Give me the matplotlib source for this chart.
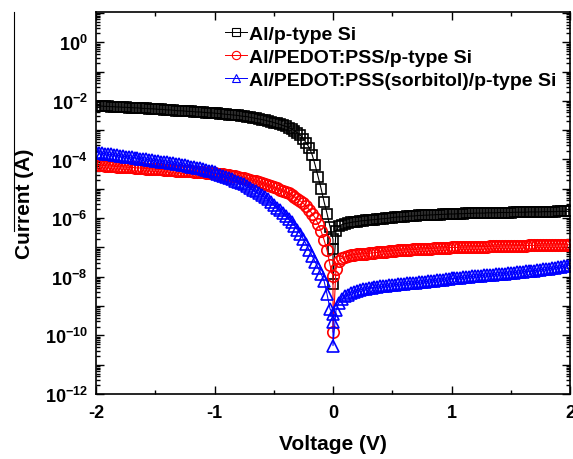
import numpy as np
import matplotlib
matplotlib.use("Agg")
import matplotlib.pyplot as plt
from matplotlib.ticker import LogLocator, FuncFormatter, MultipleLocator, NullFormatter
from matplotlib.lines import Line2D

plt.rcParams['font.family'] = ['Liberation Sans', 'DejaVu Sans']
plt.rcParams['font.weight'] = 'bold'
plt.rcParams['mathtext.fontset'] = 'custom'
plt.rcParams['mathtext.rm'] = 'Liberation Sans:bold'
plt.rcParams['mathtext.bf'] = 'Liberation Sans:bold'
plt.rcParams['mathtext.it'] = 'Liberation Sans:bold'
plt.rcParams['mathtext.default'] = 'rm'
plt.rcParams['axes.unicode_minus'] = False

# ---------------- data (log10 of current in A) ----------------
# sweep: negative branch -2.000 ... -0.025 V (step 0.025), points at 0 V, positive branch 0.025 ... 2.000 V
v_neg = np.round(np.arange(-80, 0) * 0.025, 3)
v_pos = np.round(np.arange(1, 81) * 0.025, 3)

labels = ["Al/p-type Si", "Al/PEDOT:PSS/p-type Si", "Al/PEDOT:PSS(sorbitol)/p-type Si"]

al_neg = [-2.17, -2.18, -2.18, -2.19, -2.19, -2.20, -2.20, -2.21, -2.21, -2.22,
          -2.22, -2.23, -2.23, -2.24, -2.24, -2.25, -2.26, -2.26, -2.27, -2.27,
          -2.28, -2.29, -2.29, -2.30, -2.31, -2.31, -2.32, -2.33, -2.34, -2.34,
          -2.35, -2.36, -2.36, -2.37, -2.38, -2.38, -2.39, -2.40, -2.41, -2.41,
          -2.42, -2.43, -2.44, -2.45, -2.46, -2.47, -2.48, -2.49, -2.50, -2.52,
          -2.53, -2.54, -2.56, -2.58, -2.60, -2.62, -2.64, -2.66, -2.69, -2.71,
          -2.74, -2.77, -2.80, -2.84, -2.87, -2.91, -2.96, -3.02, -3.09, -3.18,
          -3.30, -3.44, -3.60, -3.85, -4.20, -4.60, -5.00, -5.45, -5.85, -6.30]
al_zero = [-6.72, -7.06, -8.25]
al_pos = [-6.45, -6.28, -6.22, -6.19, -6.17, -6.15, -6.13, -6.12, -6.10, -6.09,
          -6.08, -6.07, -6.06, -6.05, -6.04, -6.03, -6.02, -6.01, -6.00, -5.98,
          -5.97, -5.96, -5.96, -5.95, -5.94, -5.93, -5.93, -5.92, -5.91, -5.91,
          -5.90, -5.90, -5.89, -5.89, -5.88, -5.88, -5.87, -5.87, -5.86, -5.86,
          -5.86, -5.85, -5.85, -5.85, -5.84, -5.84, -5.84, -5.83, -5.83, -5.83,
          -5.83, -5.82, -5.82, -5.82, -5.82, -5.81, -5.81, -5.81, -5.81, -5.81,
          -5.80, -5.80, -5.80, -5.80, -5.80, -5.79, -5.79, -5.79, -5.79, -5.79,
          -5.78, -5.78, -5.78, -5.78, -5.78, -5.77, -5.77, -5.77, -5.77, -5.77]

pedot_neg = [-4.19, -4.20, -4.20, -4.21, -4.22, -4.22, -4.23, -4.24, -4.25, -4.25,
             -4.26, -4.27, -4.27, -4.28, -4.29, -4.29, -4.30, -4.31, -4.32, -4.32,
             -4.33, -4.34, -4.34, -4.35, -4.36, -4.36, -4.37, -4.38, -4.39, -4.39,
             -4.40, -4.41, -4.41, -4.42, -4.43, -4.43, -4.44, -4.45, -4.46, -4.46,
             -4.47, -4.48, -4.49, -4.51, -4.52, -4.54, -4.55, -4.57, -4.59, -4.62,
             -4.64, -4.67, -4.70, -4.72, -4.75, -4.78, -4.81, -4.84, -4.88, -4.91,
             -4.95, -4.99, -5.03, -5.07, -5.11, -5.16, -5.21, -5.27, -5.35, -5.42,
             -5.50, -5.60, -5.72, -5.85, -6.00, -6.20, -6.45, -6.75, -7.10, -7.60]
pedot_zero = [-7.97, -9.89]
pedot_pos = [-7.75, -7.45, -7.36, -7.32, -7.29, -7.27, -7.25, -7.24, -7.23, -7.22,
             -7.21, -7.20, -7.19, -7.18, -7.17, -7.16, -7.15, -7.14, -7.13, -7.12,
             -7.11, -7.10, -7.10, -7.09, -7.08, -7.08, -7.07, -7.07, -7.06, -7.05,
             -7.05, -7.04, -7.04, -7.03, -7.03, -7.02, -7.02, -7.01, -7.01, -7.00,
             -7.00, -7.00, -6.99, -6.99, -6.99, -6.98, -6.98, -6.98, -6.97, -6.97,
             -6.97, -6.97, -6.96, -6.96, -6.96, -6.96, -6.95, -6.95, -6.95, -6.95,
             -6.94, -6.94, -6.94, -6.94, -6.94, -6.93, -6.93, -6.93, -6.93, -6.93,
             -6.92, -6.92, -6.92, -6.92, -6.92, -6.91, -6.91, -6.91, -6.91, -6.91]

sorb_neg = [-3.76, -3.77, -3.79, -3.80, -3.82, -3.83, -3.84, -3.86, -3.87, -3.89,
            -3.90, -3.91, -3.93, -3.94, -3.96, -3.97, -3.98, -4.00, -4.01, -4.03,
            -4.04, -4.05, -4.07, -4.08, -4.10, -4.11, -4.13, -4.15, -4.16, -4.18,
            -4.20, -4.22, -4.24, -4.26, -4.28, -4.30, -4.33, -4.35, -4.38, -4.41,
            -4.44, -4.48, -4.52, -4.56, -4.60, -4.64, -4.68, -4.72, -4.76, -4.80,
            -4.85, -4.91, -4.97, -5.03, -5.09, -5.15, -5.22, -5.29, -5.36, -5.45,
            -5.55, -5.64, -5.73, -5.82, -5.92, -6.03, -6.14, -6.26, -6.40, -6.55,
            -6.72, -6.90, -7.10, -7.30, -7.50, -7.70, -7.90, -8.15, -8.60, -9.10]
sorb_zero = [-9.27, -9.55, -10.35]
sorb_pos = [-9.15, -8.88, -8.75, -8.67, -8.61, -8.56, -8.52, -8.48, -8.45, -8.43,
            -8.41, -8.39, -8.38, -8.36, -8.35, -8.33, -8.32, -8.31, -8.29, -8.28,
            -8.27, -8.26, -8.25, -8.24, -8.23, -8.22, -8.21, -8.20, -8.19, -8.18,
            -8.17, -8.16, -8.14, -8.13, -8.12, -8.11, -8.10, -8.08, -8.07, -8.06,
            -8.05, -8.04, -8.03, -8.02, -8.01, -8.00, -7.99, -7.98, -7.97, -7.96,
            -7.95, -7.94, -7.94, -7.93, -7.92, -7.91, -7.90, -7.89, -7.88, -7.87,
            -7.86, -7.85, -7.84, -7.83, -7.82, -7.81, -7.80, -7.79, -7.78, -7.76,
            -7.75, -7.74, -7.72, -7.71, -7.69, -7.68, -7.66, -7.64, -7.62, -7.60]

series = [
    (al_neg, al_zero, al_pos, 'black', 's', 7.2),
    (pedot_neg, pedot_zero, pedot_pos, 'red', 'o', 8.2),
    (sorb_neg, sorb_zero, sorb_pos, 'blue', '^', 8.6),
]

# ---------------- figure ----------------
W, H = 573, 460
fig = plt.figure(figsize=(W / 100, H / 100), dpi=100)
ax = fig.add_axes([96 / W, 1 - 395 / H, (570 - 96) / W, (395 - 13) / H])

for (neg, zero, pos, col, mk, ms), lab in zip(series, labels):
    v = np.concatenate([v_neg, np.zeros(len(zero)), v_pos])
    logi = np.concatenate([neg, zero, pos])
    ax.plot(v, 10.0 ** logi, color=col, lw=0.8, marker=mk, ms=ms,
            mfc='none', mec=col, mew=1.2, label=lab)

ax.set_yscale('log')
ax.set_xlim(-2, 2)
ax.set_ylim(1e-12, 10 ** 1.03)

ax.xaxis.set_major_locator(MultipleLocator(1))
ax.xaxis.set_minor_locator(MultipleLocator(0.5))
ax.xaxis.set_major_formatter(FuncFormatter(lambda x, p: '%d' % round(x)))

ax.yaxis.set_major_locator(LogLocator(base=10, numticks=30))
ax.yaxis.set_minor_locator(LogLocator(base=10, subs=np.arange(2, 10), numticks=30))
ax.yaxis.set_minor_formatter(NullFormatter())

def yfmt(y, pos):
    e = int(round(np.log10(y)))
    if e % 2 == 0:
        return r'$10^{%d}$' % e
    return ''

ax.yaxis.set_major_formatter(FuncFormatter(yfmt))

ax.tick_params(which='both', direction='in', top=True, right=True, width=1.0)
ax.tick_params(which='major', length=5.5, labelsize=13)
ax.tick_params(axis='x', which='major', pad=7)
ax.tick_params(axis='y', which='major', pad=6)
ax.tick_params(which='minor', length=3.0)
for s in ax.spines.values():
    s.set_linewidth(1.2)

ax.set_xlabel('Voltage (V)', fontsize=15, fontweight='bold')
ax.set_ylabel('Current (A)', fontsize=15, fontweight='bold')
ax.xaxis.set_label_coords(0.5, -0.105)
ax.yaxis.set_label_coords(-0.13, 0.5)

leg = ax.legend(loc='upper left', bbox_to_anchor=(0.272, 0.965), frameon=False,
                handlelength=1.15, handletextpad=0.08,
                labelspacing=0.27, borderpad=0, borderaxespad=0, numpoints=1,
                prop={'weight': 'bold', 'size': 14})
for h in leg.legend_handles:
    h.set_markersize(6.0)
    h.set_markeredgewidth(0.8)
    h.set_linewidth(0.7)

# stray vertical line at the left edge of the original figure
fig.add_artist(Line2D([13.5 / W, 13.5 / W], [1 - 13 / H, 1 - 232 / H],
                      color='black', lw=0.8, transform=fig.transFigure))

fig.savefig('out.png', dpi=100)
